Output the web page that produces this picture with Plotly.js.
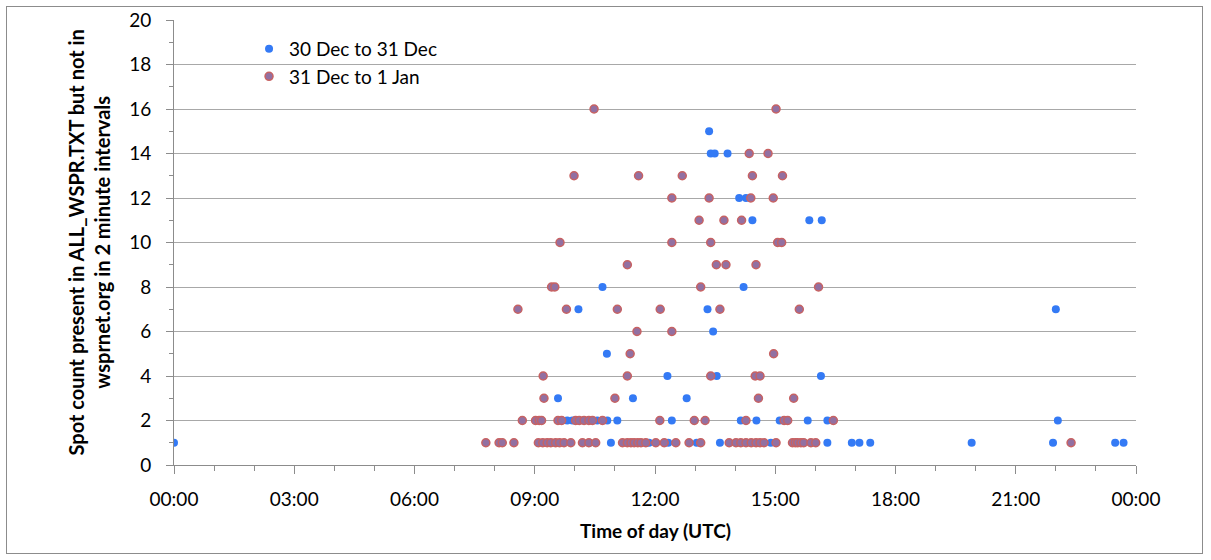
<!DOCTYPE html>
<html>
<head>
<meta charset="utf-8">
<script src="https://cdn.plot.ly/plotly-3.0.1.min.js"></script>
<style>
  html, body { margin: 0; padding: 0; background: #fff; }
  #frame { position: absolute; left: 6px; top: 6px; width: 1195px; height: 546px; border: 1px solid #8c8c8c; }
  #chart { width: 1195px; height: 546px; }
</style>
</head>
<body>
<div id="frame"><div id="chart"></div></div>
<script>
// Time of day in decimal hours (UTC), spot counts
const seriesNames = ["30 Dec to 31 Dec", "31 Dec to 1 Jan"];

const blueHours = [
  0.0, 10.36, 10.90, 11.85, 12.33, 13.04, 13.62, 14.89, 16.30, 16.91, 17.10, 17.37, 19.90, 21.93, 23.48, 23.69,
  9.81, 9.94, 10.56, 10.81, 11.06, 12.42, 14.14, 14.53, 15.11, 15.81, 16.30, 22.05,
  9.58, 11.45, 12.79,
  12.31, 13.54, 16.14,
  10.80,
  13.45,
  10.09, 13.31, 22.00,
  10.69, 14.21,
  14.43, 15.85, 16.16,
  14.10, 14.27,
  13.39, 13.49, 13.81,
  13.35
];
const blueCounts = [
  1, 1, 1, 1, 1, 1, 1, 1, 1, 1, 1, 1, 1, 1, 1, 1,
  2, 2, 2, 2, 2, 2, 2, 2, 2, 2, 2, 2,
  3, 3, 3,
  4, 4, 4,
  5,
  6,
  7, 7, 7,
  8, 8,
  11, 11, 11,
  12, 12,
  14, 14, 14,
  15
];

const redHours = [
  7.78, 8.11, 8.19, 8.48, 9.09, 9.20, 9.31, 9.40, 9.52, 9.62, 9.73, 9.90, 10.19, 10.35, 10.52,
  11.19, 11.31, 11.40, 11.48, 11.57, 11.65, 11.77, 12.02, 12.23, 12.52, 12.85, 13.14, 13.85, 14.02,
  14.14, 14.27, 14.40, 14.52, 14.62, 14.72, 15.02, 15.43, 15.50, 15.56, 15.64, 15.71, 15.89, 16.01, 22.38,
  8.69, 9.02, 9.11, 9.17, 9.58, 9.67, 10.02, 10.11, 10.23, 10.35, 10.44, 10.69, 12.12, 12.98, 13.25,
  14.27, 15.22, 15.31, 16.45,
  9.23, 11.00, 14.58, 15.46,
  9.21, 11.31, 13.39, 14.50, 14.62,
  11.38, 14.96,
  11.55, 12.42,
  8.58, 9.79, 11.06, 12.13, 13.62, 15.60,
  9.42, 9.50, 13.14, 16.08,
  11.31, 13.53, 13.77, 14.52,
  9.63, 12.42, 13.39, 15.06, 15.16,
  13.10, 13.72, 14.16,
  12.42, 13.35, 14.39, 14.95,
  9.98, 11.59, 12.68, 14.43, 15.18,
  14.35, 14.82,
  10.48, 15.02
];
const redCounts = [
  1, 1, 1, 1, 1, 1, 1, 1, 1, 1, 1, 1, 1, 1, 1,
  1, 1, 1, 1, 1, 1, 1, 1, 1, 1, 1, 1, 1, 1,
  1, 1, 1, 1, 1, 1, 1, 1, 1, 1, 1, 1, 1, 1, 1,
  2, 2, 2, 2, 2, 2, 2, 2, 2, 2, 2, 2, 2, 2, 2,
  2, 2, 2, 2,
  3, 3, 3, 3,
  4, 4, 4, 4, 4,
  5, 5,
  6, 6,
  7, 7, 7, 7, 7, 7,
  8, 8, 8, 8,
  9, 9, 9, 9,
  10, 10, 10, 10, 10,
  11, 11, 11,
  12, 12, 12, 12,
  13, 13, 13, 13, 13,
  14, 14,
  16, 16
];

const xTickVals = [0, 3, 6, 9, 12, 15, 18, 21, 24];
const xTickText = ["00:00", "03:00", "06:00", "09:00", "12:00", "15:00", "18:00", "21:00", "00:00"];

const xTitle = "Time of day (UTC)";
const yTitle = "Spot count present in ALL_WSPR.TXT but not in<br>wsprnet.org in 2 minute intervals";

const FONT = "Lato, 'Open Sans', sans-serif";

const traces = [
  {
    type: "scatter", mode: "markers", name: seriesNames[0],
    x: blueHours, y: blueCounts,
    marker: { color: "rgb(52,122,245)", size: 8, line: { width: 0 } },
    hoverinfo: "x+y"
  },
  {
    type: "scatter", mode: "markers", name: seriesNames[1],
    x: redHours, y: redCounts,
    marker: { color: "rgb(146,112,162)", size: 8, line: { color: "rgb(200,98,98)", width: 1.5 } },
    hoverinfo: "x+y"
  }
];

const layout = {
  width: 1195, height: 546,
  margin: { l: 167, r: 66, t: 13, b: 88 },
  paper_bgcolor: "#fff", plot_bgcolor: "#fff",
  font: { family: FONT, size: 16, color: "#000" },
  showlegend: true,
  legend: {
    x: 0.078, y: 0.978, xanchor: "left", yanchor: "top",
    bgcolor: "rgba(0,0,0,0)", borderwidth: 0,
    font: { family: FONT, size: 19, color: "#000" },
    itemwidth: 30
  },
  xaxis: {
    range: [0, 24], fixedrange: true,
    tickmode: "array", tickvals: xTickVals, ticktext: xTickText,
    ticks: "outside", ticklen: 8, tickwidth: 1, tickcolor: "#8c8c8c",
    ticklabelstandoff: 9,
    showline: true, linecolor: "#8c8c8c", linewidth: 1,
    showgrid: false, zeroline: false,
    tickfont: { family: FONT, size: 19, color: "#000" },
    minor: { tick0: 0, dtick: 1, ticks: "outside", ticklen: 5, tickwidth: 1, tickcolor: "#8c8c8c", showgrid: false }
  },
  yaxis: {
    range: [0, 20], fixedrange: true,
    tickmode: "linear", tick0: 0, dtick: 2,
    ticks: "outside", ticklen: 7, tickwidth: 1, tickcolor: "#8c8c8c",
    ticklabelstandoff: 11,
    showline: true, linecolor: "#8c8c8c", linewidth: 1,
    showgrid: true, gridcolor: "#a8a8a8", gridwidth: 1,
    zeroline: false,
    tickfont: { family: FONT, size: 19, color: "#000" },
    minor: { tick0: 1, dtick: 2, ticks: "outside", ticklen: 4, tickwidth: 1, tickcolor: "#8c8c8c", showgrid: false }
  },
  annotations: [
    {
      text: "<b>" + xTitle + "</b>", xref: "paper", yref: "paper",
      x: 0.5, y: 0, xanchor: "center", yanchor: "middle", yshift: -65,
      showarrow: false, font: { family: FONT, size: 19, color: "#000" }
    },
    {
      text: "<b>" + yTitle + "</b>", xref: "paper", yref: "paper",
      x: 0, y: 0.5, xanchor: "center", yanchor: "middle", xshift: -86,
      textangle: -90, showarrow: false, font: { family: FONT, size: 20, color: "#000" }
    }
  ]
};

Plotly.newPlot("chart", traces, layout, { displayModeBar: false, staticPlot: true });
</script>
</body>
</html>
